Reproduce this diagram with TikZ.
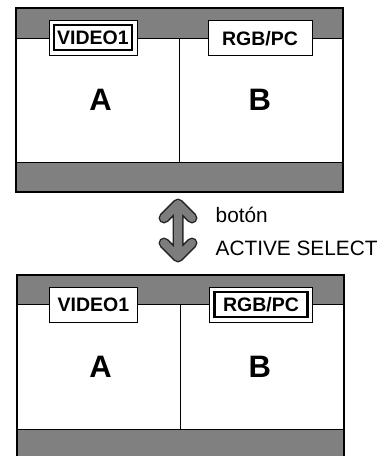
\documentclass[tikz,border=0pt]{standalone}
\usepackage{fontspec}
\setmainfont{Liberation Sans}
\usetikzlibrary{positioning,calc}
\definecolor{screengray}{RGB}{128,128,128}
\definecolor{arrowgray}{RGB}{125,125,125}

\begin{document}
\begin{tikzpicture}[
  x=1pt, y=-1pt,
  every node/.style={inner sep=0pt},
  frame/.style={draw=black, line width=2pt},
  sepline/.style={draw=black, line width=1pt},
  srclabel/.style={draw=black, line width=0.9pt, fill=white, minimum height=35pt,
    text height=14pt, text depth=0pt,
    font=\fontsize{19.5}{21}\selectfont\bfseries},
  winlabel/.style={font=\fontsize{31}{33}\selectfont\bfseries},
  btntext/.style={font=\fontsize{20.8}{23}\selectfont, anchor=base west}
]
\clip (0,0) rectangle (389,456);

% pantalla superior (VIDEO1 activo)
\fill[screengray] (16,8) rectangle (343,192);
\fill[white] (17,38) rectangle (342,162);
\draw[sepline] (16,38) -- (343,38) (16,162) -- (343,162);
\draw[sepline] (179.5,38) -- (179.5,162);
\draw[frame] (16,8) rectangle (343,192);
\node[srclabel, minimum width=88pt] (vidTop) at (93,37.5) {VIDEO1};
\draw[line width=2.6pt] ([xshift=5.5pt,yshift=-5.5pt]vidTop.north west)
  rectangle ([xshift=-5.5pt,yshift=5.5pt]vidTop.south east);
\node[srclabel, minimum width=104pt] (rgbTop) at (260,38) {RGB/PC};
\node[winlabel] (aTop) at (100.5,100) {A};
\node[winlabel] (bTop) at (259.7,100) {B};

% flecha doble (boton ACTIVE SELECT)
\draw[line width=11pt, line cap=round, line join=round, black!85]
  (164,218) -- (178,204) -- (192,218) (178,204) -- (178,257)
  (164,243) -- (178,257) -- (192,243);
\draw[line width=8pt, line cap=round, line join=round, arrowgray]
  (164,218) -- (178,204) -- (192,218) (178,204) -- (178,257)
  (164,243) -- (178,257) -- (192,243);
\node[btntext] (btnA) at (215.5,222.7) {botón};
\node[btntext] (btnB) at (215.5,255.5) {ACTIVE SELECT};

% pantalla inferior (RGB/PC activo)
\fill[screengray] (16.5,275) rectangle (343.5,470);
\fill[white] (17.5,304) rectangle (342.5,429);
\draw[sepline] (16.5,304) -- (343.5,304) (16.5,429) -- (343.5,429);
\draw[sepline] (180,304) -- (180,429);
\draw[frame] (16.5,275) rectangle (343.5,470);
\node[srclabel, minimum width=88pt] (vidBot) at (93.5,304.5) {VIDEO1};
\node[srclabel, minimum width=103pt] (rgbBot) at (261,304.5) {RGB/PC};
\draw[line width=2.6pt] ([xshift=5.5pt,yshift=-5.5pt]rgbBot.north west)
  rectangle ([xshift=-5.5pt,yshift=5.5pt]rgbBot.south east);
\node[winlabel] (aBot) at (100.5,367) {A};
\node[winlabel] (bBot) at (259.7,367) {B};
\end{tikzpicture}
\end{document}
